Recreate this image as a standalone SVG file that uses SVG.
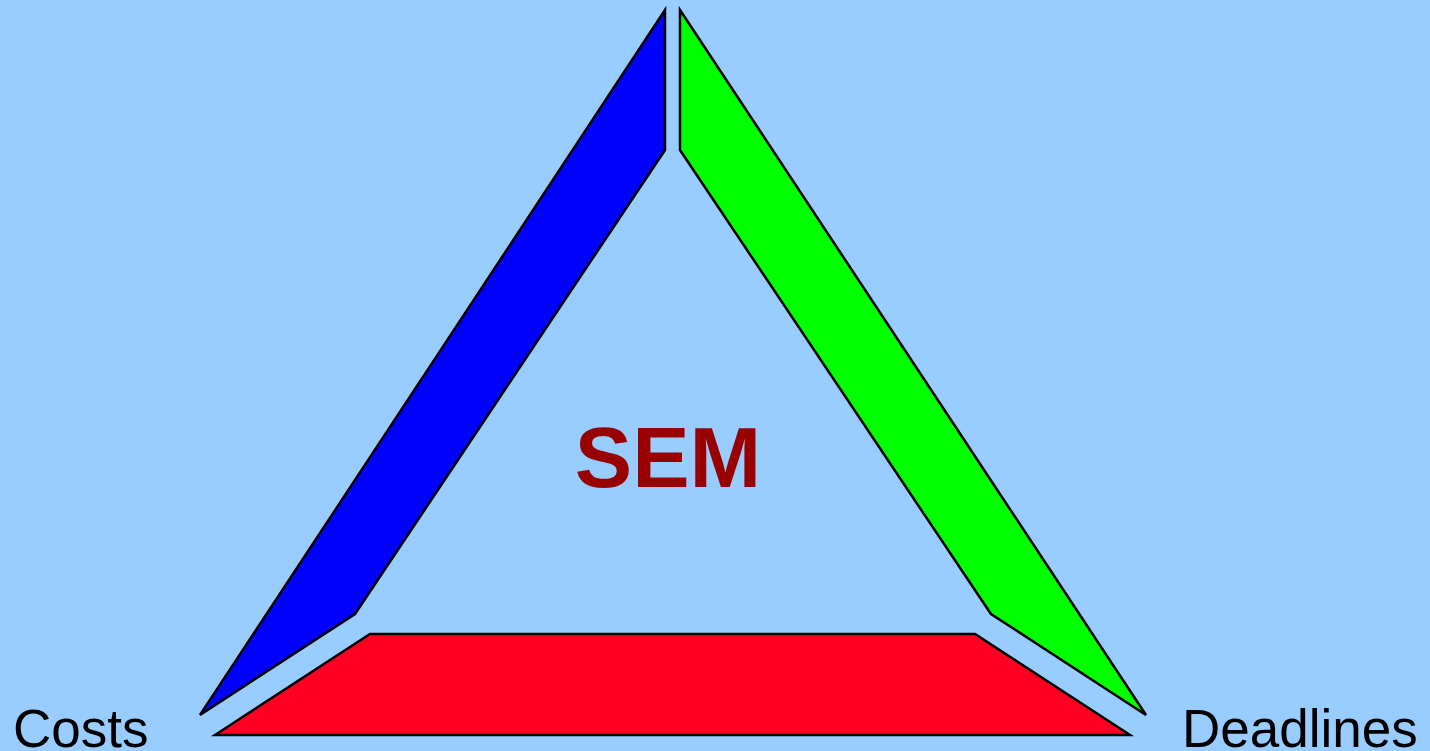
<svg xmlns="http://www.w3.org/2000/svg" width="1430" height="751" viewBox="0 0 1430 751">
<style>
.side{stroke:#000;stroke-width:2.5;stroke-linejoin:miter}
.lbl{font-family:"Liberation Sans",Arial,sans-serif;fill:#000}
</style>
<rect width="1430" height="751" fill="#99CCFF"/>
<g id="costs-side"><polygon class="side" fill="#0000FF" points="665,10 665,150 355,614 200,715"/></g>
<g id="deadlines-side"><polygon class="side" fill="#00FF00" points="680,10 680,150 991,614 1146,715"/></g>
<g id="base-side"><polygon class="side" fill="#FF0022" points="215,735 370,634 975,634 1130,735"/></g>
<g id="connectors"></g>
<g id="sem"><text x="668" y="487" text-anchor="middle" font-family="Liberation Sans,Arial,sans-serif" font-weight="bold" font-size="86" fill="#990000">SEM</text></g>
<g id="costs"><text class="lbl" x="13" y="747" font-size="53">Costs</text></g>
<g id="deadlines"><text class="lbl" x="1182" y="747" font-size="53">Deadlines</text></g>
</svg>
